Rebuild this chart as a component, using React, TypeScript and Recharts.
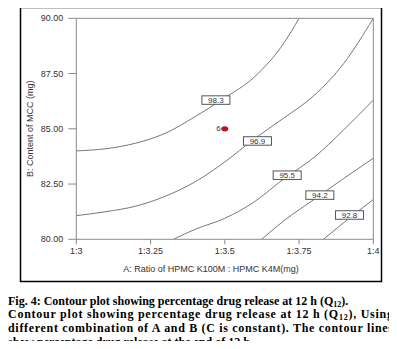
import React from 'react';
import { ComposedChart, Line, Scatter, XAxis, YAxis, ReferenceLine } from 'recharts';

const xTicks = [3, 3.25, 3.5, 3.75, 4];
const xTickLabels = ['1:3', '1:3.25', '1:3.5', '1:3.75', '1:4'];
const yTicks = [80, 82.5, 85, 87.5, 90];
const yTickLabels = ['80.00', '82.50', '85.00', '87.50', '90.00'];

const contour983 = [
  { x: 3.0, y: 84.0 }, { x: 3.1, y: 84.1 }, { x: 3.2, y: 84.35 }, { x: 3.3, y: 84.8 },
  { x: 3.4, y: 85.55 }, { x: 3.5, y: 86.4 }, { x: 3.6, y: 87.35 }, { x: 3.7, y: 88.9 }, { x: 3.75, y: 90.0 },
];
const contour969 = [
  { x: 3.0, y: 81.07 }, { x: 3.1, y: 81.25 }, { x: 3.2, y: 81.5 }, { x: 3.3, y: 81.95 },
  { x: 3.4, y: 82.6 }, { x: 3.5, y: 83.5 }, { x: 3.6, y: 84.55 }, { x: 3.7, y: 85.5 },
  { x: 3.8, y: 86.5 }, { x: 3.9, y: 87.95 }, { x: 4.0, y: 90.0 },
];
const contour955 = [
  { x: 3.327, y: 80.0 }, { x: 3.4, y: 80.45 }, { x: 3.5, y: 80.95 }, { x: 3.6, y: 81.7 },
  { x: 3.7, y: 82.75 }, { x: 3.8, y: 83.7 }, { x: 3.9, y: 84.95 }, { x: 4.0, y: 86.3 },
];
const contour942 = [
  { x: 3.624, y: 80.0 }, { x: 3.7, y: 80.85 }, { x: 3.8, y: 81.8 }, { x: 3.9, y: 82.75 }, { x: 4.0, y: 83.67 },
];
const contour928 = [
  { x: 3.832, y: 80.0 }, { x: 3.9, y: 80.75 }, { x: 4.0, y: 81.8 },
];
const contours = [contour983, contour969, contour955, contour942, contour928];

const labelText = ['98.3', '96.9', '95.5', '94.2', '92.8'];
const labelX = [3.47, 3.61, 3.71, 3.82, 3.92];
const labelY = [86.3, 84.45, 82.9, 82.0, 81.1];
const labelPoints = labelText.map((t, i) => ({ x: labelX[i], y: labelY[i], text: t }));

const designPoints = [{ x: 3.5, y: 85.0, run: '6' }];

const captionLines = [
  'Fig. 4: Contour plot showing percentage drug release at 12 h (Q',
  'Contour plot showing percentage drug release at 12 h (Q',
  'different combination of A and B (C is constant). The contour lines',
  'show percentage drug release at the end of 12 h',
];

const FONT = '"Liberation Sans", Arial, sans-serif';
const SERIF = '"Liberation Serif", "Times New Roman", serif';
const TEXT = '#333';
const AXIS = '#8a8a8a';
const LINE = '#777';

const LabelBox = (props: any) => {
  const { cx, cy, payload } = props;
  if (cx == null || cy == null) return null;
  const w = 28;
  const h = 8.5;
  return (
    <g>
      <rect x={cx - w / 2} y={cy - h / 2} width={w} height={h} fill="#fff" stroke="#555" strokeWidth={1} />
      <text x={cx} y={cy + 3} textAnchor="middle" fontSize={8} fontFamily={FONT} fill={TEXT}>
        {payload.text}
      </text>
    </g>
  );
};

const DesignDot = (props: any) => {
  const { cx, cy, payload } = props;
  if (cx == null || cy == null) return null;
  return (
    <g>
      <ellipse cx={cx} cy={cy} rx={3.5} ry={2.6} fill="#c0101a" />
      <text x={cx - 4} y={cy + 2.5} textAnchor="end" fontSize={8} fontFamily={FONT} fill={TEXT}>
        {payload.run}
      </text>
    </g>
  );
};

const XTitle = (props: any) => {
  const vb = props.viewBox || {};
  return (
    <text x={211} y={vb.y + 33} textAnchor="middle" fontSize={9} fontFamily={FONT} fill={TEXT}>
      A: Ratio of HPMC K100M : HPMC K4M(mg)
    </text>
  );
};

const YTitle = () => (
  <text
    x={30}
    y={128.8}
    textAnchor="middle"
    dominantBaseline="central"
    transform="rotate(-90, 30, 128.8)"
    fontSize={9}
    fontFamily={FONT}
    fill={TEXT}
  >
    B: Content of MCC (mg)
  </text>
);

export default function App() {
  return (
    <div style={{ position: 'relative', width: 381, height: 333 }}>
      <div style={{ position: 'absolute', left: -8, top: -8, width: 397, height: 285 }}>
        <ComposedChart
          width={397}
          height={285}
          margin={{ top: 18.3, right: 23.7, bottom: 15.7, left: 20 }}
        >
          <XAxis
            type="number"
            dataKey="x"
            domain={[3, 4]}
            ticks={xTicks}
            tickFormatter={(v: number) => xTickLabels[xTicks.indexOf(v)]}
            allowDataOverflow
            height={30}
            tickSize={5}
            tickMargin={3}
            stroke={AXIS}
            tick={{ fill: TEXT, fontSize: 9, fontFamily: FONT }}
            label={<XTitle />}
          />
          <YAxis
            type="number"
            dataKey="y"
            domain={[80, 90]}
            ticks={yTicks}
            tickFormatter={(v: number) => yTickLabels[yTicks.indexOf(v)]}
            allowDataOverflow
            width={56.3}
            tickSize={8}
            tickMargin={5}
            stroke={AXIS}
            tick={{ fill: TEXT, fontSize: 9, fontFamily: FONT }}
            label={<YTitle />}
          />
          <ReferenceLine y={90} stroke={AXIS} />
          <ReferenceLine x={4} stroke={AXIS} />
          {contours.map((c, i) => (
            <Line
              key={i}
              data={c}
              dataKey="y"
              type="monotone"
              stroke={LINE}
              strokeWidth={1}
              dot={false}
              activeDot={false}
              isAnimationActive={false}
            />
          ))}
          <Scatter data={labelPoints} dataKey="y" shape={<LabelBox />} isAnimationActive={false} />
          <Scatter data={designPoints} dataKey="y" shape={<DesignDot />} isAnimationActive={false} />
        </ComposedChart>
      </div>
      <svg
        width={397}
        height={349}
        style={{ position: 'absolute', left: -8, top: -8, overflow: 'visible', pointerEvents: 'none' }}
      >
        <rect x={20.5} y={7.5} width={361} height={274} fill="none" stroke="#000" strokeWidth={1.5} />
        <g fontFamily={SERIF} fontWeight="bold" fontSize={12} fill="#000">
          <text x={8} y={304.5}>
            {captionLines[0]}
            <tspan fontSize={8} dy={2}>12</tspan>
            <tspan dy={-2}>).</tspan>
          </text>
          <text x={8} y={318} textLength={385} lengthAdjust="spacing">
            {captionLines[1]}
            <tspan fontSize={8} dy={2}>12</tspan>
            <tspan dy={-2}>), Using</tspan>
          </text>
          <text x={8} y={332} textLength={385} lengthAdjust="spacing">
            {captionLines[2]}
          </text>
          <text x={8} y={345.5}>{captionLines[3]}</text>
        </g>
      </svg>
    </div>
  );
}
